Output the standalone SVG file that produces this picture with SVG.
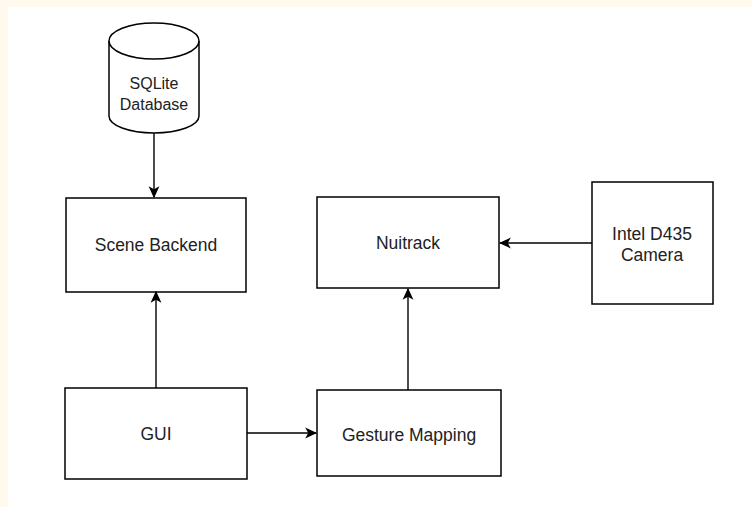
<svg xmlns="http://www.w3.org/2000/svg" width="752" height="507" viewBox="0 0 752 507">
<defs>
<style>
.box{fill:#ffffff;stroke:#000000;stroke-width:1.5}
.lbl{font-family:"Liberation Sans",Arial,sans-serif;font-size:17.5px;fill:#222222;text-anchor:middle}
.db{font-size:16px}
.edge{fill:none;stroke:#000000;stroke-width:1.4}
</style>
<marker id="arr" viewBox="0 0 10 10" refX="9" refY="5" markerWidth="12" markerHeight="12" markerUnits="userSpaceOnUse" orient="auto">
<path d="M0,0.5 L10,5 L0,9.5 L2.5,5 Z" fill="#000000"/>
</marker>
</defs>
<rect x="0" y="0" width="752" height="507" fill="#fff9ee"/>
<rect x="8" y="7" width="744" height="500" fill="#ffffff"/>
<g id="sqlite">
<path class="box" d="M109,41 A45,18 0 0 1 199,41 L199,116 A45,17 0 0 1 109,116 Z"/>
<path class="box" d="M109,41 A45,18 0 0 0 199,41" fill="none"/>
<text class="lbl db" x="154" y="89">SQLite</text>
<text class="lbl db" x="154" y="110">Database</text>
</g>
<g id="scene-backend">
<rect class="box" x="66" y="198" width="180" height="94"/>
<text class="lbl" x="156" y="251">Scene Backend</text>
</g>
<g id="nuitrack">
<rect class="box" x="317" y="197" width="182" height="91"/>
<text class="lbl" x="408" y="249">Nuitrack</text>
</g>
<g id="intel-camera">
<rect class="box" x="592" y="182" width="121" height="122"/>
<text class="lbl" x="652" y="240">Intel D435</text>
<text class="lbl" x="652" y="261">Camera</text>
</g>
<g id="gui">
<rect class="box" x="65" y="388" width="182" height="91"/>
<text class="lbl" x="156" y="440">GUI</text>
</g>
<g id="gesture-mapping">
<rect class="box" x="317" y="390" width="184" height="86"/>
<text class="lbl" x="409" y="441">Gesture Mapping</text>
</g>
<g id="connectors">
<path class="edge" marker-end="url(#arr)" d="M154,133 L154,197"/>
<path class="edge" marker-end="url(#arr)" d="M156,388 L156,292"/>
<path class="edge" marker-end="url(#arr)" d="M247,433 L316,433"/>
<path class="edge" marker-end="url(#arr)" d="M408,390 L408,289"/>
<path class="edge" marker-end="url(#arr)" d="M592,243 L500,243"/>
</g>
</svg>
